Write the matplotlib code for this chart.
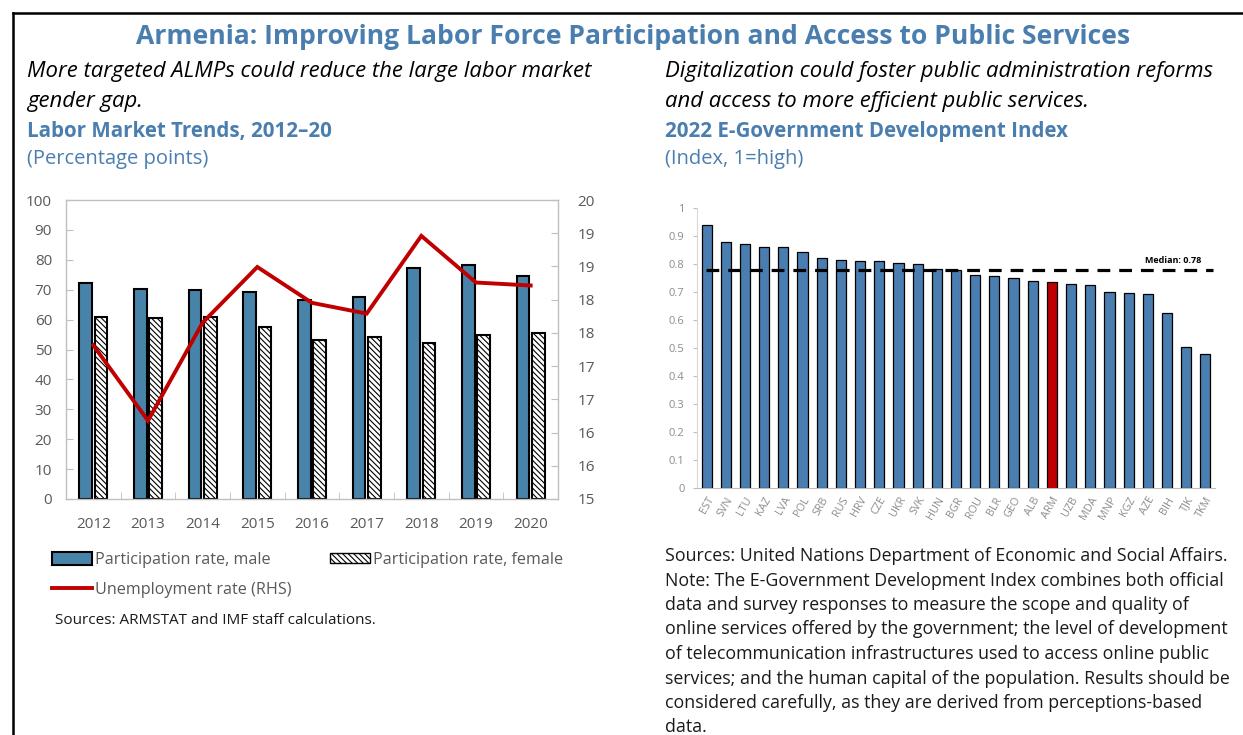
"""Armenia: labor force participation and e-government panels."""

import matplotlib

matplotlib.use("Agg")
import matplotlib.pyplot as plt
import numpy as np
from matplotlib.lines import Line2D
from matplotlib.patches import Patch
from matplotlib.ticker import FuncFormatter

YEARS = ["2012", "2013", "2014", "2015", "2016", "2017", "2018", "2019", "2020"]
MALE = [72.3, 70.1, 69.9, 69.1, 66.5, 67.5, 77.2, 78.1, 74.7]
FEMALE = [61.0, 60.7, 61.0, 57.5, 53.2, 54.2, 52.3, 54.9, 55.5]
UNEMPLOYMENT = [17.57, 16.31, 17.95, 18.88, 18.28, 18.10, 19.40, 18.62, 18.57]

COUNTRIES = [
    "EST", "SVN", "LTU", "KAZ", "LVA", "POL", "SRB", "RUS", "HRV", "CZE",
    "UKR", "SVK", "HUN", "BGR", "ROU", "BLR", "GEO", "ALB", "ARM", "UZB",
    "MDA", "MNP", "KGZ", "AZE", "BIH", "TJK", "TKM",
]
EGDI = [
    0.938, 0.878, 0.873, 0.861, 0.859, 0.842, 0.823, 0.816, 0.809, 0.809,
    0.803, 0.799, 0.781, 0.777, 0.760, 0.758, 0.749, 0.739, 0.734, 0.727,
    0.724, 0.700, 0.697, 0.694, 0.626, 0.504, 0.480,
]
MEDIAN = 0.78
HIGHLIGHT = "ARM"

BLUE_TEXT = "#4A7EAF"
MALE_BLUE = "#4884AA"
BAR_BLUE = "#4A7EB0"
RED = "#C00000"
FRAME = "#BFBFBF"
TICK_GRAY = "#595959"

plt.rcParams.update({"font.family": ["Open Sans", "DejaVu Sans"], "hatch.linewidth": 0.8})

W, H = 1243, 735
fig = plt.figure(figsize=(W / 100, H / 100), dpi=100)


def px_axes(x0, y0, x1, y1):
    """Axes placed by pixel box (top-left origin)."""
    return fig.add_axes([x0 / W, 1 - y1 / H, (x1 - x0) / W, (y1 - y0) / H])


def px_text(x, y, s, **kw):
    fig.text(x / W, 1 - y / H, s, **kw)


# outer frame (top and left edges)
fig.add_artist(Line2D([13 / W, 1], [1 - 13 / H] * 2, color="black", lw=1.8))
fig.add_artist(Line2D([13 / W] * 2, [0, 1 - 13 / H], color="black", lw=1.8))

px_text(633, 37, "Armenia: Improving Labor Force Participation and Access to Public Services",
        ha="center", va="center", fontsize=19.1, fontweight="bold", color=BLUE_TEXT)

# headers, left panel
px_text(27, 72, "More targeted ALMPs could reduce the large labor market",
        va="center", fontsize=15.9, style="italic")
px_text(27, 101, "gender gap.", va="center", fontsize=15.9, style="italic")
px_text(27, 131, "Labor Market Trends, 2012–20", va="center", fontsize=14.8,
        fontweight="bold", color=BLUE_TEXT)
px_text(27, 159, "(Percentage points)", va="center", fontsize=14.5, color=BLUE_TEXT)

# headers, right panel
px_text(665, 72, "Digitalization could foster public administration reforms",
        va="center", fontsize=15.9, style="italic")
px_text(665, 101, "and access to more efficient public services.",
        va="center", fontsize=15.9, style="italic")
px_text(665, 131, "2022 E-Government Development Index", va="center", fontsize=14.8,
        fontweight="bold", color=BLUE_TEXT)
px_text(665, 159, "(Index, 1=high)", va="center", fontsize=14.5, color=BLUE_TEXT)

# ---- left panel: participation bars + unemployment line
ax = px_axes(66, 200, 558, 499)
x = np.arange(len(YEARS))
bw = 0.235
ax.bar(x - 0.14, MALE, bw, color=MALE_BLUE, edgecolor="black", linewidth=1.5, zorder=2)
ax.bar(x + 0.14, FEMALE, bw, color="white", edgecolor="black", hatch="\\\\\\\\\\\\",
       linewidth=1.5, zorder=2)
ax.set_xlim(-0.5, len(YEARS) - 0.5)
ax.set_ylim(0, 100)
ax.set_yticks(range(0, 101, 10))
ax.set_xticks(x)
ax.set_xticklabels(YEARS)
ax.set_xticks(np.arange(0.5, len(YEARS) - 0.5), minor=True)
ax.tick_params(axis="x", which="major", length=0, pad=13, labelsize=11, labelcolor=TICK_GRAY)
ax.tick_params(axis="x", which="minor", direction="in", length=5, color=FRAME)
ax.tick_params(axis="y", direction="in", length=5, color=FRAME, labelsize=11,
               labelcolor=TICK_GRAY, pad=10)
for sp in ax.spines.values():
    sp.set_color(FRAME)
    sp.set_linewidth(1.0)

ax2 = ax.twinx()
ax2.plot(x, UNEMPLOYMENT, color=RED, lw=2.8, solid_joinstyle="miter", zorder=3)
ax2.set_ylim(15, 20)
ax2.set_yticks(np.linspace(15, 20, 10))
ax2.yaxis.set_major_formatter(FuncFormatter(lambda v, _: f"{v:.0f}"))
ax2.tick_params(axis="y", direction="in", length=5, color=FRAME, labelsize=11,
                labelcolor=TICK_GRAY, pad=14)
for sp in ax2.spines.values():
    sp.set_visible(False)

handles = [
    Patch(facecolor=MALE_BLUE, edgecolor="black", linewidth=1.5, label="Participation rate, male"),
    Patch(facecolor="white", edgecolor="black", hatch="\\\\\\\\\\\\", linewidth=1.0,
          label="Participation rate, female"),
    Line2D([], [], color=RED, lw=2.8, label="Unemployment rate (RHS)"),
]
common = dict(frameon=False, fontsize=11.6, handlelength=2.5, handletextpad=0.15,
              labelcolor=TICK_GRAY, borderaxespad=0, borderpad=0)
fig.legend(handles=handles[:1], loc="center left", bbox_to_anchor=(52 / W, 1 - 560 / H),
           handleheight=0.9, **common)
fig.legend(handles=handles[1:2], loc="center left", bbox_to_anchor=(330 / W, 1 - 560 / H),
           handleheight=0.6, **common)
fig.legend(handles=handles[2:], loc="center left", bbox_to_anchor=(52 / W, 1 - 590 / H),
           **common)
px_text(55, 620, "Sources: ARMSTAT and IMF staff calculations.", va="center",
        fontsize=11, color="#1A1A1A")

# ---- right panel: E-Government Development Index
bx = px_axes(697, 208, 1215, 488)
xc = np.arange(len(COUNTRIES))
colors = [RED if c == HIGHLIGHT else BAR_BLUE for c in COUNTRIES]
bx.bar(xc, EGDI, 0.53, color=colors, edgecolor="black", linewidth=0.9, zorder=2)
bx.plot([-0.05, len(COUNTRIES) - 0.6], [MEDIAN, MEDIAN], color="black", lw=2.3,
        dashes=(4, 2.8), zorder=3)
bx.text(len(COUNTRIES) - 1.2, MEDIAN + 0.033, f"Median: {MEDIAN:.2f}", ha="right",
        va="center", fontsize=6.5, fontweight="bold")
bx.set_xlim(-0.5, len(COUNTRIES) - 0.5)
bx.set_ylim(0, 1)
bx.set_yticks(np.arange(0, 1.01, 0.1))
bx.yaxis.set_major_formatter(FuncFormatter(lambda v, _: f"{v:.1f}".rstrip("0").rstrip(".")
                                           if v > 0 else "0"))
bx.set_xticks(xc)
bx.set_xticklabels(COUNTRIES, rotation=60, ha="right", rotation_mode="anchor")
bx.tick_params(axis="x", length=0, pad=5, labelsize=7.8, labelcolor="#8C8C8C")
bx.tick_params(axis="y", length=3, color=FRAME, labelsize=8, labelcolor="#8C8C8C", pad=6)
for side in ("top", "right"):
    bx.spines[side].set_visible(False)
bx.spines["left"].set_color("#D9D9D9")
bx.spines["bottom"].set_color("#BFBFBF")

note = [
    "Sources: United Nations Department of Economic and Social Affairs.",
    "Note: The E-Government Development Index combines both official",
    "data and survey responses to measure the scope and quality of",
    "online services offered by the government; the level of development",
    "of telecommunication infrastructures used to access online public",
    "services; and the human capital of the population. Results should be",
    "considered carefully, as they are derived from perceptions-based",
    "data.",
]
for i, line in enumerate(note):
    px_text(665, 556 + i * 24.5, line, va="center", fontsize=12.8, color="#1A1A1A")

fig.savefig("out.png", dpi=100)
